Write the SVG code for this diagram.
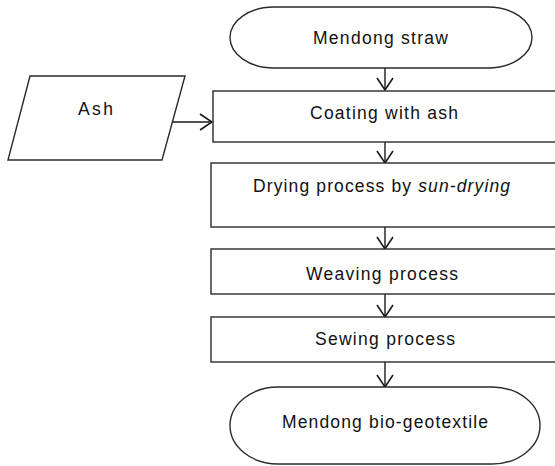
<svg xmlns="http://www.w3.org/2000/svg" width="555" height="466" viewBox="0 0 555 466">
  <style>
    .shape { fill: #ffffff; stroke: #2a2a2a; stroke-width: 1.4; }
    .conn { fill: none; stroke: #1a1a1a; stroke-width: 1.4; }
    .lbl { font-family: "Liberation Sans", Arial, sans-serif; font-size: 17.5px; fill: #111; }
  </style>
  <defs>
    <marker id="arr" viewBox="0 0 14 18" markerWidth="14" markerHeight="18" refX="13" refY="9" orient="auto" markerUnits="userSpaceOnUse">
      <path d="M1,1 L13,9 L1,17" fill="none" stroke="#1a1a1a" stroke-width="1.6"/>
    </marker>
  </defs>
  <rect width="555" height="466" fill="#ffffff"/>

  <g id="connectors">
    <line class="conn" x1="385" y1="68" x2="385" y2="90" marker-end="url(#arr)"/>
    <line class="conn" x1="385" y1="142" x2="385" y2="163" marker-end="url(#arr)"/>
    <line class="conn" x1="385" y1="227" x2="385" y2="249" marker-end="url(#arr)"/>
    <line class="conn" x1="385" y1="294" x2="385" y2="317" marker-end="url(#arr)"/>
    <line class="conn" x1="385" y1="362" x2="385" y2="387" marker-end="url(#arr)"/>
    <line class="conn" x1="172" y1="122" x2="212" y2="122" marker-end="url(#arr)"/>
  </g>

  <g id="node-mendong-straw">
    <rect class="shape" x="230" y="7" width="302" height="61" rx="44" ry="30.5"/>
    <text class="lbl" x="313" y="44" textLength="135" lengthAdjust="spacing">Mendong straw</text>
  </g>

  <g id="node-ash">
    <polygon class="shape" points="30,76 185,76 162,160 8,160"/>
    <text class="lbl" x="78" y="115" textLength="35" lengthAdjust="spacing">Ash</text>
  </g>

  <g id="node-coating">
    <rect class="shape" x="213" y="91" width="360" height="51"/>
    <text class="lbl" x="310" y="119" textLength="148" lengthAdjust="spacing">Coating with ash</text>
  </g>

  <g id="node-drying">
    <rect class="shape" x="211" y="163" width="360" height="64"/>
    <text class="lbl" x="253" y="192" textLength="257" lengthAdjust="spacing">Drying process by <tspan font-style="italic">sun-drying</tspan></text>
  </g>

  <g id="node-weaving">
    <rect class="shape" x="211" y="249" width="360" height="45"/>
    <text class="lbl" x="306" y="280" textLength="152" lengthAdjust="spacing">Weaving process</text>
  </g>

  <g id="node-sewing">
    <rect class="shape" x="211" y="317" width="360" height="45"/>
    <text class="lbl" x="315" y="345" textLength="140" lengthAdjust="spacing">Sewing process</text>
  </g>

  <g id="node-bio-geotextile">
    <rect class="shape" x="230" y="387" width="310" height="77" rx="48" ry="38.5"/>
    <text class="lbl" x="282" y="428" textLength="206" lengthAdjust="spacing">Mendong bio-geotextile</text>
  </g>
</svg>
